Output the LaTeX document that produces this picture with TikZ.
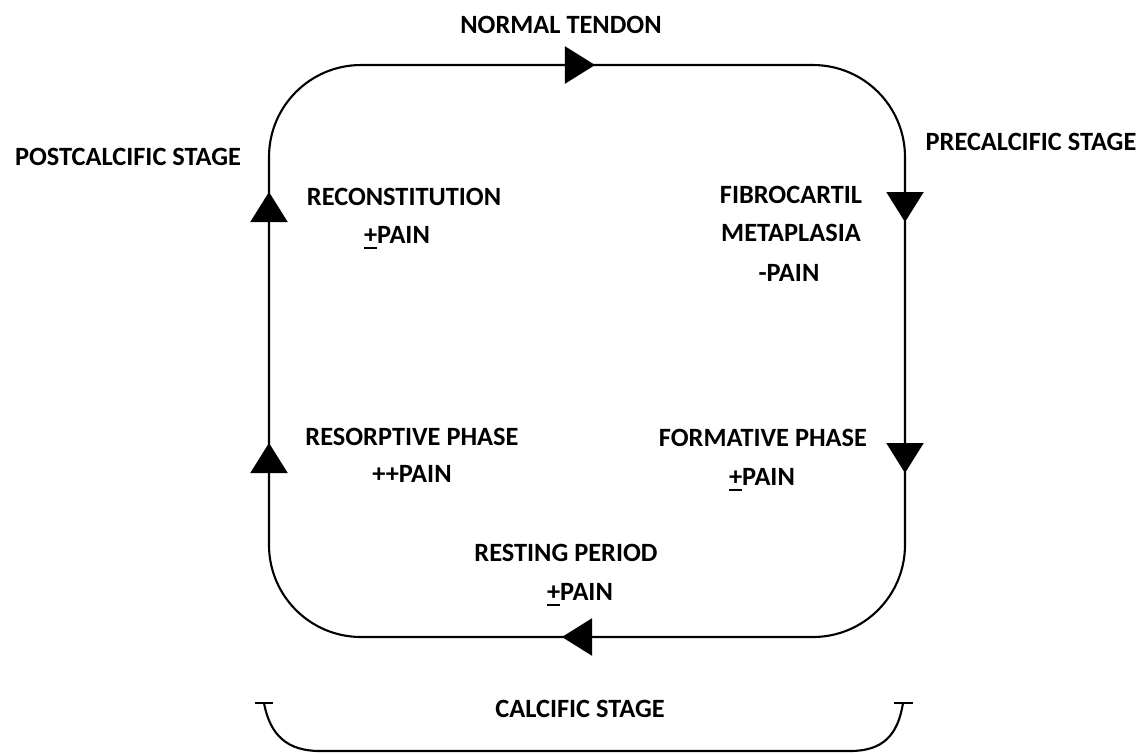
\documentclass[tikz,border=0pt]{standalone}
\usepackage{fontspec}
\setmainfont{Carlito}
\usetikzlibrary{arrows.meta}

\begin{document}
\begin{tikzpicture}[x=0.01cm, y=-0.01cm]
\tikzset{etiquette/.style={font=\bfseries\fontsize{7.5}{9}\selectfont, inner sep=0pt, anchor=base},
  cycle/.style={draw, line width=0.6pt, rounded corners=0.92cm},
  pointe/.style={line width=0.6pt, -{Triangle[length=3mm, width=3.7mm]}},
  accolade/.style={line width=0.6pt}}
\useasboundingbox (0, 0) rectangle (1141, 753);
% le cycle
\coordinate (NO) at (269, 65);
\coordinate (SE) at (905, 637);
\draw[cycle] (NO) rectangle (SE);
\coordinate (H1) at (560, 65);   \coordinate (H2) at (595, 65);
\coordinate (D1) at (905, 188);  \coordinate (D2) at (905, 222);
\coordinate (D3) at (905, 439);  \coordinate (D4) at (905, 473);
\coordinate (B1) at (597, 637);  \coordinate (B2) at (562, 637);
\coordinate (G1) at (269, 479);  \coordinate (G2) at (269, 443);
\coordinate (G3) at (269, 226);  \coordinate (G4) at (269, 192);
\draw[pointe] (H1) -- (H2);
\draw[pointe] (D1) -- (D2);
\draw[pointe] (D3) -- (D4);
\draw[pointe] (B1) -- (B2);
\draw[pointe] (G1) -- (G2);
\draw[pointe] (G3) -- (G4);
% les textes
\node[etiquette] (normal) at (561, 33) {NORMAL TENDON};
\node[etiquette] (precal) at (1031, 150) {PRECALCIFIC STAGE};
\node[etiquette] (postcal) at (128, 165) {POSTCALCIFIC STAGE};
\node[etiquette] (recon) at (404, 205) {RECONSTITUTION};
\node[etiquette] (reconpain) at (397, 243) {\underline{+}PAIN};
\node[etiquette] (fibro) at (791, 203) {FIBROCARTIL};
\node[etiquette] (meta) at (791, 241) {METAPLASIA};
\node[etiquette] (metapain) at (789, 281) {-PAIN};
\node[etiquette] (resorp) at (412, 445) {RESORPTIVE PHASE};
\node[etiquette] (resorppain) at (412, 482) {++PAIN};
\node[etiquette] (format) at (763, 446) {FORMATIVE PHASE};
\node[etiquette] (formatpain) at (762, 485) {\underline{+}PAIN};
\node[etiquette] (repos) at (566, 561) {RESTING PERIOD};
\node[etiquette] (repospain) at (580, 600) {\underline{+}PAIN};
\node[etiquette] (calc) at (580, 717) {CALCIFIC STAGE};
% l'accolade du bas
\coordinate (A1) at (264, 703);
\coordinate (A2) at (903, 703);
\draw[accolade] (A1) .. controls (270, 735) and (287, 751) .. (320, 751) -- (850, 751)
  .. controls (883, 751) and (898, 735) .. (A2);
\draw[accolade] (255, 703) -- (273, 703);
\draw[accolade] (894, 703) -- (913, 703);
\end{tikzpicture}
\end{document}
